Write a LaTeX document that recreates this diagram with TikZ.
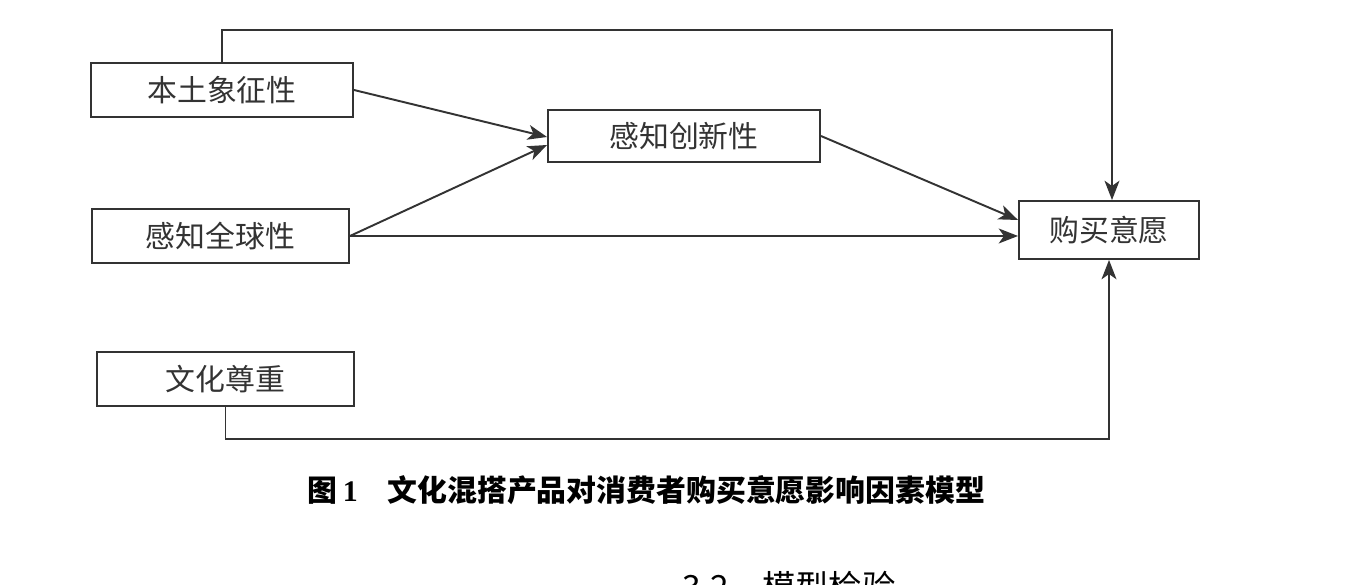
\documentclass[tikz,border=0pt]{standalone}
\usepackage{fontspec}
\setmainfont{Liberation Serif}
\newfontfamily\cjk{Noto Sans CJK SC}
\usetikzlibrary{arrows.meta, positioning}
\definecolor{ink}{HTML}{333333}
\tikzstyle{box} = [rectangle, 
minimum height=1.08cm,
align=center, 
draw=ink, 
line width=1.1pt,
text=ink,
font=\cjk\fontsize{17}{20}\selectfont]
\tikzstyle{arrow} = [-{Stealth[length=11pt,width=8.5pt,inset=3pt]}, line width=1.1pt, draw=ink]

\begin{document}
\begin{tikzpicture}
		
		% Canvas boundary
		\useasboundingbox (0,0) rectangle (27.2,11.7);
		\clip (0,0) rectangle (27.2,11.7);
		\fill[white] (0,0) rectangle (27.2,11.7);
		
		% Factor nodes
		\node[box, minimum width=5.24cm] (bentu) at (4.44, 9.9) {本土象征性};
		\node[box, minimum width=5.14cm] (quanqiu) at (4.41, 6.98) {感知全球性};
		\node[box, minimum width=5.14cm] (wenhua) at (4.51, 4.12) {文化尊重};
		
		% Mediator and outcome
		\node[box, minimum width=5.44cm, minimum height=1.04cm] (chuangxin) at (13.68, 8.98) {感知创新性};
		\node[box, minimum width=3.6cm, minimum height=1.16cm] (goumai) at (22.18, 7.1) {购买意愿};
		
		% Connections
		\draw[arrow] (bentu.east) -- ([yshift=-0.02cm]chuangxin.west);
		\draw[arrow] (quanqiu.east) -- ([yshift=-0.18cm]chuangxin.west);
		\draw[arrow] (quanqiu.east) -- (quanqiu.east -| goumai.west);
		\draw[arrow] (chuangxin.east) -- ([yshift=0.2cm]goumai.west);
		\draw[arrow] (bentu.north) -- ++(0,0.64) -| ([xshift=0.06cm]goumai.north);
		\draw[arrow] (wenhua.south) -- ++(0,-0.64) -| (goumai.south);
		
		% Caption
		\node[font=\cjk\bfseries\fontsize{17}{20}\selectfont] (caption) at (12.93, 1.9) {图\,\textbf{\rmfamily 1}\quad 文化混搭产品对消费者购买意愿影响因素模型};
		
		% Next section heading (cut off)
		\node[anchor=base west, inner sep=0pt, font=\cjk\fontsize{19}{22}\selectfont] (section) at (13.64, -0.3) {3.2\quad 模型检验};
		
\end{tikzpicture}
\end{document}
